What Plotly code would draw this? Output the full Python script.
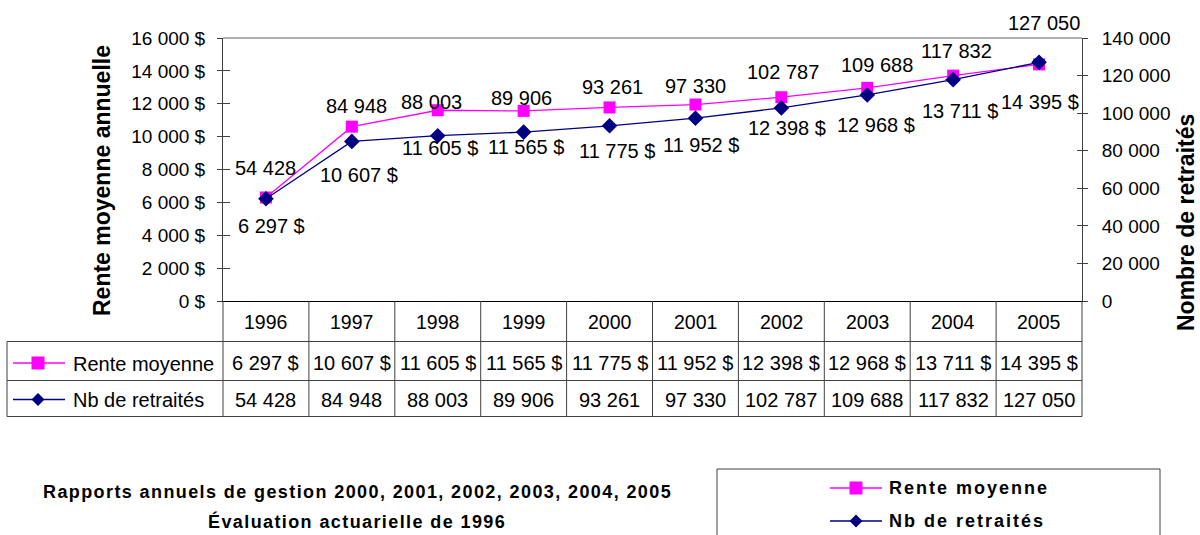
import plotly.graph_objects as go

# ---------------- data ----------------
years = ["1996", "1997", "1998", "1999", "2000", "2001", "2002", "2003", "2004", "2005"]
rente_moyenne = [6297, 10607, 11605, 11565, 11775, 11952, 12398, 12968, 13711, 14395]
nb_retraites = [54428, 84948, 88003, 89906, 93261, 97330, 102787, 109688, 117832, 127050]
series_names = ["Rente moyenne", "Nb de retraités"]
left_title = "Rente moyenne annuelle"
right_title = "Nombre de retraités"
source_lines = ["Rapports annuels de gestion 2000, 2001, 2002, 2003, 2004, 2005",
                "Évaluation actuarielle de 1996"]

# ---------------- style ----------------
PINK = "#FF00FF"
NAVY = "#000080"
GRID = "#404040"
FONT = "Liberation Sans, Arial, sans-serif"
# label pixel shifts (x, y) relative to each point
NB_LABEL_SHIFT = [(0, 31), (5, 35), (-6, 34), (-2, 34), (3, 39), (0, 32), (2, 36), (10, 30), (3, 29), (5, 39)]
RENTE_LABEL_SHIFT = [(6, -29), (7, -48), (2, -38), (2, -36), (7, -44), (6, -40), (6, -31), (9, -37), (7, -35), (1, -38)]

W, H = 1200, 535
ML, MR, MT, MB = 223, 118, 38, 234
PW, PH = W - ML - MR, H - MT - MB


def px(x):
    return (x - ML) / PW


def py(y):
    return (H - MB - y) / PH


def fmt_int(v):
    return f"{v:,}".replace(",", " ")


def fmt_money(v):
    return fmt_int(v) + " $"


def text_ann(**kw):
    d = dict(showarrow=False, xanchor="center", yanchor="middle")
    d.update(kw)
    return d


fig = go.Figure()
fig.add_trace(go.Scatter(x=years, y=rente_moyenne, name=series_names[0], mode="lines+markers",
                         line=dict(color=PINK, width=1.3),
                         marker=dict(symbol="square", size=12, color=PINK),
                         yaxis="y", cliponaxis=False, showlegend=False))
fig.add_trace(go.Scatter(x=years, y=nb_retraites, name=series_names[1], mode="lines+markers",
                         line=dict(color=NAVY, width=1.3),
                         marker=dict(symbol="diamond", size=12, color=NAVY),
                         yaxis="y2", cliponaxis=False, showlegend=False))
# empty traces to carry the inner tick marks
fig.add_trace(go.Scatter(x=[], y=[], yaxis="y3", showlegend=False, hoverinfo="skip"))
fig.add_trace(go.Scatter(x=[], y=[], yaxis="y4", showlegend=False, hoverinfo="skip"))

ann = []
shapes = []

# data labels (x given as category index on the category axis)
for i, yr in enumerate(years):
    dx, dy = NB_LABEL_SHIFT[i]
    ann.append(text_ann(x=i, y=nb_retraites[i], xref="x", yref="y2", text=fmt_int(nb_retraites[i]),
                        xshift=dx, yshift=dy, font=dict(size=20, color="black")))
    dx, dy = RENTE_LABEL_SHIFT[i]
    ann.append(text_ann(x=i, y=rente_moyenne[i], xref="x", yref="y", text=fmt_money(rente_moyenne[i]),
                        xshift=dx, yshift=dy, font=dict(size=20, color="black")))

# plot top border
shapes.append(dict(type="line", xref="paper", yref="paper", x0=0, x1=1, y0=1, y1=1,
                   line=dict(color="#b0b0b0", width=2)))

# data table
ROW_Y = [301, 341.5, 380.5, 416.5]
for yy in ROW_Y[1:]:
    shapes.append(dict(type="line", xref="paper", yref="paper", x0=px(7), x1=1, y0=py(yy), y1=py(yy),
                       line=dict(color=GRID, width=1)))
shapes.append(dict(type="line", xref="paper", yref="paper", x0=px(7), x1=px(7), y0=py(ROW_Y[1]), y1=py(ROW_Y[3]),
                   line=dict(color=GRID, width=1)))
for xx in (0, 1):
    shapes.append(dict(type="line", xref="paper", yref="paper", x0=xx, x1=xx, y0=py(ROW_Y[0]), y1=py(ROW_Y[3]),
                       line=dict(color=GRID, width=1)))
for i in range(len(years) - 1):
    shapes.append(dict(type="line", xref="x", yref="paper", x0=i + 0.5, x1=i + 0.5, y0=py(ROW_Y[0]), y1=py(ROW_Y[3]),
                       line=dict(color=GRID, width=1)))

for i, yr in enumerate(years):
    ann.append(text_ann(x=i, y=py(322), xref="x", yref="paper", text=yr, font=dict(size=19.5, color="black")))
    ann.append(text_ann(x=i, y=py(363), xref="x", yref="paper", text=fmt_money(rente_moyenne[i]),
                        font=dict(size=20, color="black")))
    ann.append(text_ann(x=i, y=py(399.5), xref="x", yref="paper", text=fmt_int(nb_retraites[i]),
                        font=dict(size=20, color="black")))


def key(xc, yc, color, symbol, x0, x1, half):
    shapes.append(dict(type="line", xref="paper", yref="paper", x0=px(x0), x1=px(x1), y0=py(yc), y1=py(yc),
                       line=dict(color=color, width=1.3)))
    if symbol == "square":
        shapes.append(dict(type="rect", xref="paper", yref="paper", x0=px(xc - half), x1=px(xc + half),
                           y0=py(yc - half), y1=py(yc + half), fillcolor=color, line=dict(width=0)))
    else:
        path = (f"M {px(xc - half)},{py(yc)} L {px(xc)},{py(yc - half)} L {px(xc + half)},{py(yc)} "
                f"L {px(xc)},{py(yc + half)} Z")
        shapes.append(dict(type="path", xref="paper", yref="paper", path=path, fillcolor=color,
                           line=dict(width=0)))


key(38, 363, PINK, "square", 13, 65, 6.5)
key(38, 399.5, NAVY, "diamond", 13, 65, 6.5)
ann.append(text_ann(x=px(71), y=py(364), xref="paper", yref="paper", text=series_names[0],
                    xanchor="left", font=dict(size=20, color="black")))
ann.append(text_ann(x=px(71), y=py(400), xref="paper", yref="paper", text=series_names[1],
                    xanchor="left", font=dict(size=20, color="black")))

# axis titles
ann.append(text_ann(x=px(102), y=py(181), xref="paper", yref="paper", text=f"<b>{left_title}</b>",
                    textangle=-90, font=dict(size=23, color="black")))
ann.append(text_ann(x=px(1186), y=py(223), xref="paper", yref="paper", text=f"<b>{right_title}</b>",
                    textangle=-90, font=dict(size=23, color="black")))

# source text
for j, line in enumerate(source_lines):
    ann.append(text_ann(x=px(357), y=py(492 + 29 * j), xref="paper", yref="paper",
                        text=f"<span style='letter-spacing:1.4px'><b>{line}</b></span>",
                        font=dict(size=18, color="black")))

# legend box
shapes.append(dict(type="rect", xref="paper", yref="paper", x0=px(717), x1=px(1160), y0=py(469), y1=py(550),
                   line=dict(color=GRID, width=1)))
key(856, 488, PINK, "square", 830, 882, 6.5)
key(856, 521, NAVY, "diamond", 830, 882, 6.5)
for j, name in enumerate(series_names):
    ann.append(text_ann(x=px(887), y=py(488 + 33 * j), xref="paper", yref="paper",
                        text=f"<span style='letter-spacing:2px'><b>{name}</b></span>", xanchor="left",
                        font=dict(size=18, color="black")))

axis_common = dict(showgrid=False, zeroline=False, fixedrange=True)
fig.update_layout(
    width=W, height=H,
    margin=dict(l=ML, r=MR, t=MT, b=MB, pad=0),
    paper_bgcolor="white", plot_bgcolor="white",
    font=dict(family=FONT, size=19, color="black"),
    separators=", ",
    xaxis=dict(type="category", range=[-0.5, len(years) - 0.5], showticklabels=False, ticks="",
               showline=True, linecolor="black", linewidth=1, **axis_common),
    yaxis=dict(range=[0, 16000], dtick=2000, tickformat=",d", ticksuffix=" $", ticks="outside",
               ticklen=5, tickcolor=GRID, showline=True, linecolor=GRID, linewidth=1,
               ticklabelstandoff=8, tickfont=dict(size=19), **axis_common),
    yaxis2=dict(overlaying="y", side="right", range=[0, 140000], dtick=20000, tickformat=",d",
                ticks="outside", ticklen=5, tickcolor=GRID, showline=True, linecolor=GRID, linewidth=1,
                ticklabelstandoff=10, tickfont=dict(size=19), **axis_common),
    yaxis3=dict(overlaying="y", side="left", range=[0, 16000], dtick=2000, ticks="inside", ticklen=7,
                tickcolor=GRID, showticklabels=False, showline=False, **axis_common),
    yaxis4=dict(overlaying="y", side="right", range=[0, 140000], dtick=20000, ticks="inside", ticklen=5,
                tickcolor=GRID, showticklabels=False, showline=False, **axis_common),
    annotations=ann,
    shapes=shapes,
    showlegend=False,
)

fig.write_html("out.html", config={"displayModeBar": False},
               post_script="document.body.style.margin='0px';document.body.style.overflow='hidden';")
